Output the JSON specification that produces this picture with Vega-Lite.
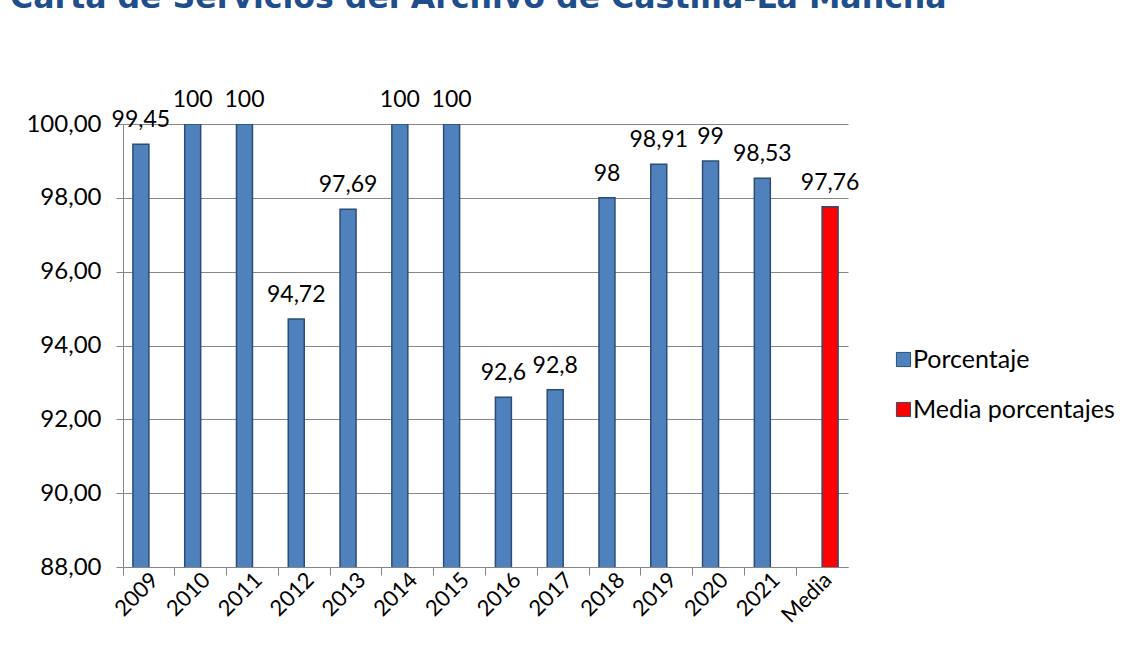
{
  "$schema": "https://vega.github.io/schema/vega-lite/v6.json",
  "autosize": "none",
  "padding": {"left": 123, "top": 124, "right": 283, "bottom": 95},
  "width": 725,
  "height": 443,
  "background": "white",
  "config": {
    "locale": {"number": {"decimal": ",", "thousands": ".", "grouping": [3], "currency": ["", " €"]}},
    "view": {"stroke": null},
    "font": "Lato"
  },
  "title": {
    "text": "Carta de Servicios del Archivo de Castilla-La Mancha",
    "anchor": "start",
    "frame": "group",
    "orient": "top",
    "font": "DejaVu Sans",
    "fontSize": 31.6,
    "fontWeight": "bold",
    "color": "#1F4E8C",
    "baseline": "alphabetic",
    "offset": 0,
    "dx": -113,
    "dy": -49
  },
  "data": {
    "values": [
      {"year": "2009", "value": 99.45, "series": "Porcentaje"},
      {"year": "2010", "value": 100, "series": "Porcentaje"},
      {"year": "2011", "value": 100, "series": "Porcentaje"},
      {"year": "2012", "value": 94.72, "series": "Porcentaje"},
      {"year": "2013", "value": 97.69, "series": "Porcentaje"},
      {"year": "2014", "value": 100, "series": "Porcentaje"},
      {"year": "2015", "value": 100, "series": "Porcentaje"},
      {"year": "2016", "value": 92.6, "series": "Porcentaje"},
      {"year": "2017", "value": 92.8, "series": "Porcentaje"},
      {"year": "2018", "value": 98, "series": "Porcentaje"},
      {"year": "2019", "value": 98.91, "series": "Porcentaje"},
      {"year": "2020", "value": 99, "series": "Porcentaje"},
      {"year": "2021", "value": 98.53, "series": "Porcentaje"},
      {"year": "Media", "value": 97.76, "series": "Media porcentajes"}
    ]
  },
  "encoding": {
    "x": {
      "field": "year",
      "type": "nominal",
      "sort": null,
      "scale": {"paddingInner": 0, "paddingOuter": 0},
      "axis": {
        "title": null,
        "labelAngle": -45,
        "labelAlign": "right",
        "labelBaseline": "middle",
        "labelFontSize": 22,
        "labelColor": "#000000",
        "labelPadding": 1,
        "bandPosition": 0,
        "domainColor": "#868686",
        "tickColor": "#868686",
        "tickSize": 8,
        "labelOffset": 6
      }
    },
    "xOffset": {
      "field": "series",
      "type": "nominal",
      "sort": ["Porcentaje", "Media porcentajes"],
      "scale": {"paddingInner": 0, "paddingOuter": 0.62}
    },
    "y": {
      "field": "value",
      "type": "quantitative",
      "scale": {"domain": [88, 100], "zero": false, "nice": false},
      "axis": {
        "title": null,
        "values": [88, 90, 92, 94, 96, 98, 100],
        "format": ".2f",
        "labelFontSize": 24,
        "labelColor": "#000000",
        "labelPadding": 15,
        "domainColor": "#868686",
        "tickColor": "#868686",
        "tickSize": 7,
        "gridColor": "#868686",
        "grid": true
      }
    }
  },
  "layer": [
    {
      "mark": {"type": "bar", "stroke": "#2C4D75", "strokeWidth": 1.5, "clip": true},
      "encoding": {
        "color": {
          "field": "series",
          "type": "nominal",
          "scale": {"domain": ["Porcentaje", "Media porcentajes"], "range": ["#4F81BD", "#FF0000"]},
          "legend": {
            "title": null,
            "orient": "none",
            "legendX": 768,
            "legendY": 223,
            "symbolType": "square",
            "symbolSize": 200,
            "symbolStrokeWidth": 1,
            "labelFontSize": 25,
            "labelLimit": 0,
            "labelColor": "#000000",
            "labelOffset": -3,
            "rowPadding": 24,
            "padding": 0
          }
        }
      }
    },
    {
      "mark": {"type": "text", "baseline": "alphabetic", "dy": -17, "fontSize": 23, "color": "#000000"},
      "encoding": {
        "text": {"field": "value", "type": "quantitative", "format": "~g"}
      }
    }
  ]
}
